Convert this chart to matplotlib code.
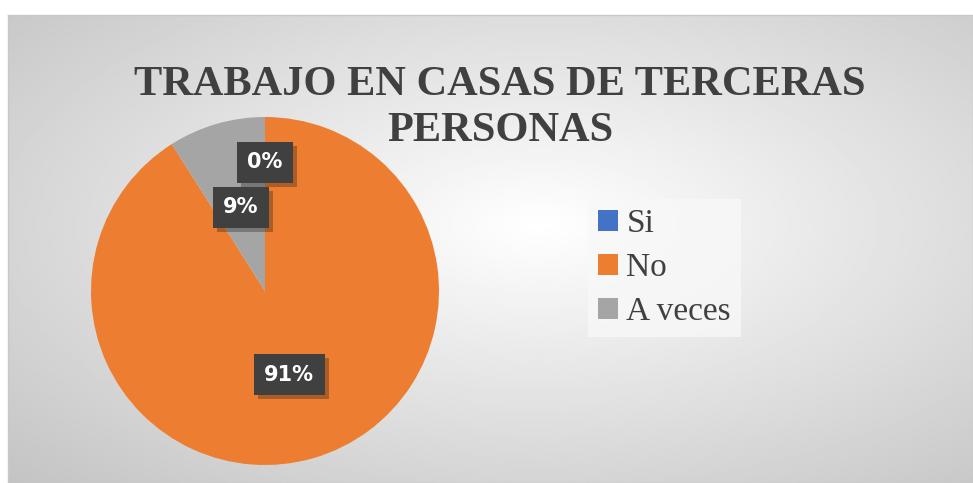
import numpy as np
import matplotlib.pyplot as plt
import matplotlib.patheffects as pe

# datos
categorias = ["Si", "No", "A veces"]
valores = [0, 91, 9]
colores = ["#4472C4", "#ED7D31", "#A5A5A5"]
titulo = "TRABAJO EN CASAS DE TERCERAS\nPERSONAS"

W, H = 973, 483
fig = plt.figure(figsize=(W / 100, H / 100), dpi=100)
fig.patch.set_facecolor("white")

# fondo con degradado radial
bg = fig.add_axes([8 / W, 0, 1 - 8 / W, 1 - 15 / H])
yy, xx = np.mgrid[0:1:200j, 0:1:400j]
d = np.sqrt(((xx - 0.55) / 0.8) ** 2 + ((yy - 0.45) / 0.8) ** 2)
grad = np.clip(1 - d * 0.24, 0, 1)
bg.imshow(grad, cmap="gray", vmin=0, vmax=1, aspect="auto", extent=[0, 1, 0, 1])
bg.set_xticks([])
bg.set_yticks([])
for s in bg.spines.values():
    s.set_color("#c8c8c8")
    s.set_linewidth(1)

# titulo
fig.text(500 / W, 1 - 108 / H, titulo, ha="center", va="center",
         family="Liberation Serif", weight="bold", fontsize=30.5,
         color="#404040", linespacing=1.3)

# pastel
cx, cy, r = 265, 291, 174
ax = fig.add_axes([(cx - r) / W, (H - cy - r) / H, 2 * r / W, 2 * r / H])
wedges, _ = ax.pie(valores, colors=colores, startangle=90, counterclock=False,
                   radius=1, wedgeprops=dict(linewidth=0))
ax.set_xlim(-1, 1)
ax.set_ylim(-1, 1)
ax.set_aspect("auto")
ax.axis("off")

dist = [0.74, 0.5, 0.5]
for w, v, dd in zip(wedges, valores, dist):
    ang = np.deg2rad((w.theta1 + w.theta2) / 2)
    x, y = dd * np.cos(ang), dd * np.sin(ang)
    t = ax.text(x, y, f"{v}%", ha="center", va="center", fontsize=15,
                weight="bold", color="white", family="DejaVu Sans",
                bbox=dict(boxstyle="square,pad=0.5", fc="#404040", ec="none"))
    t.get_bbox_patch().set_path_effects(
        [pe.SimplePatchShadow(offset=(3, -3), alpha=0.3), pe.Normal()])

# leyenda
leg = fig.legend(wedges, categorias, loc="upper left",
                 bbox_to_anchor=(588 / W, 1 - 199 / H),
                 prop=dict(family="Liberation Serif", size=24),
                 frameon=True, fancybox=False, handlelength=0.6, handleheight=0.6,
                 handletextpad=0.25, labelspacing=0.4, borderpad=0.3,
                 borderaxespad=0)
leg.get_frame().set_facecolor("#f8f8f8")
leg.get_frame().set_edgecolor("none")
for t in leg.get_texts():
    t.set_color("#404040")

fig.savefig("out.png", dpi=100)
